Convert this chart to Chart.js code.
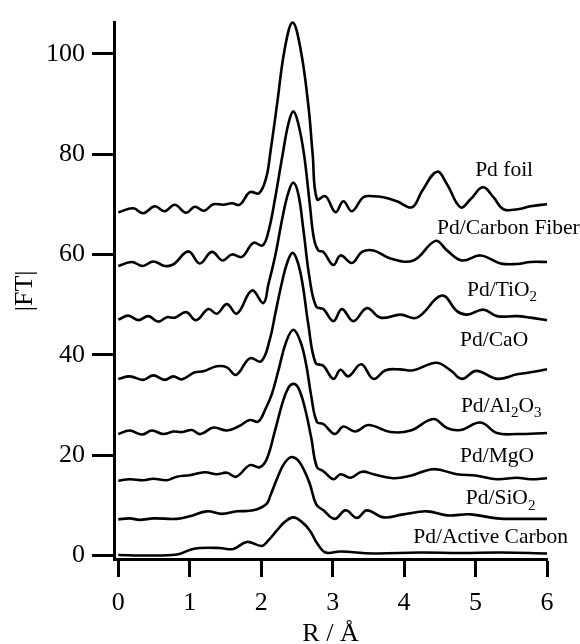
<!DOCTYPE html>
<html>
<head>
<meta charset="utf-8">
<script src="https://cdn.jsdelivr.net/npm/chart.js@4.4.0/dist/chart.umd.min.js"></script>
<style>
  html, body { margin: 0; padding: 0; background: #fff; }
</style>
</head>
<body>
<canvas id="ftChart" width="580" height="644"></canvas>
<script>
// R (Angstrom) and |FT|, one pair of arrays per sample
const foilR = [0.00,0.21,0.35,0.51,0.65,0.79,0.95,1.07,1.20,1.33,1.47,1.59,1.70,1.84,1.97,2.07,2.13,2.22,2.33,2.44,2.55,2.66,2.72,2.78,2.90,3.04,3.15,3.27,3.43,3.57,3.71,3.90,4.11,4.25,4.46,4.60,4.79,4.93,5.10,5.25,5.39,5.59,5.77,6.00];
const foilFT = [68.4,69.2,68.2,69.6,68.6,69.9,68.3,69.5,68.7,70.0,69.9,70.2,69.9,72.4,72.2,75.3,80.5,89.7,101.0,106.2,101.0,89.7,80.0,71.0,71.6,68.4,70.6,68.6,71.4,71.6,71.4,70.6,69.4,72.6,76.5,74.0,69.4,71.0,73.4,71.4,69.0,69.0,69.6,70.0];

const fiberR = [0.00,0.19,0.34,0.49,0.65,0.77,0.98,1.14,1.31,1.46,1.59,1.73,1.89,2.02,2.10,2.18,2.30,2.38,2.45,2.52,2.60,2.68,2.74,2.80,2.87,3.01,3.11,3.27,3.41,3.57,3.81,4.13,4.44,4.60,4.81,5.07,5.35,5.58,5.77,6.00];
const fiberFT = [57.7,58.5,57.7,58.6,57.7,58.0,60.6,58.2,60.5,58.8,60.0,59.5,62.3,61.8,64.5,70.0,79.9,86.0,88.5,86.0,79.9,70.0,63.0,60.8,60.5,57.9,59.8,58.3,60.5,60.8,59.2,58.8,62.7,60.8,58.8,59.8,58.2,58.1,58.5,58.5];

const tio2R = [0.00,0.14,0.28,0.42,0.56,0.68,0.79,0.95,1.09,1.26,1.38,1.52,1.66,1.87,2.03,2.10,2.20,2.30,2.38,2.45,2.52,2.59,2.68,2.77,2.87,3.01,3.13,3.29,3.48,3.67,3.95,4.18,4.53,4.74,4.88,5.11,5.30,5.58,5.77,6.00];
const tio2FT = [47.0,47.8,46.9,47.7,46.6,47.5,47.4,48.5,46.9,49.1,48.2,50.1,48.2,52.8,50.3,54.0,60.0,67.5,72.3,74.3,72.0,65.0,55.0,49.6,49.1,46.7,49.1,46.7,49.3,47.4,48.0,47.4,51.8,48.7,48.0,49.0,47.7,47.7,47.4,46.9];

const caoR = [0.00,0.16,0.35,0.49,0.65,0.77,0.89,1.07,1.19,1.38,1.52,1.65,1.84,2.00,2.12,2.20,2.30,2.37,2.44,2.51,2.58,2.66,2.76,2.87,3.01,3.11,3.22,3.40,3.57,3.74,3.94,4.13,4.45,4.65,4.81,5.01,5.30,5.58,5.77,6.00];
const caoFT = [35.2,35.7,35.0,35.9,35.0,35.7,35.1,36.5,36.7,37.7,37.5,36.0,39.3,38.7,43.0,48.4,55.0,58.6,60.3,58.5,54.0,46.0,38.4,37.8,35.2,37.0,35.7,38.1,35.2,36.9,37.1,36.9,38.4,36.9,35.2,36.8,35.2,36.1,36.5,37.1];

const al2o3R = [0.00,0.16,0.33,0.47,0.63,0.77,0.89,1.03,1.15,1.33,1.52,1.68,1.84,1.96,2.06,2.15,2.25,2.35,2.45,2.55,2.63,2.70,2.78,2.87,3.03,3.15,3.32,3.50,3.81,4.09,4.41,4.60,4.79,5.07,5.30,5.58,6.00];
const al2o3FT = [24.2,24.9,24.1,24.9,24.2,24.7,24.6,25.0,24.2,25.5,24.9,25.7,27.0,26.7,29.2,32.2,37.4,42.6,45.0,42.6,38.0,31.8,26.6,26.2,24.2,25.7,24.7,26.0,24.6,24.9,27.2,25.4,25.0,26.5,24.4,24.2,24.4];

const mgoR = [0.00,0.16,0.35,0.49,0.68,0.82,1.00,1.21,1.38,1.52,1.65,1.84,1.98,2.08,2.19,2.30,2.38,2.45,2.52,2.61,2.70,2.78,2.87,3.01,3.11,3.25,3.41,3.57,3.85,4.09,4.41,4.74,5.02,5.30,5.58,5.77,6.00];
const mgoFT = [14.9,15.2,15.0,15.3,15.0,15.7,16.0,16.6,16.2,16.5,15.7,18.0,17.6,19.3,24.7,30.5,33.4,34.2,33.4,29.5,23.5,17.6,16.8,15.2,16.2,15.5,16.7,16.2,15.4,15.9,17.2,16.2,15.9,15.2,15.5,15.2,15.4];

const sio2R = [0.00,0.16,0.30,0.49,0.82,1.00,1.24,1.45,1.66,1.89,2.07,2.13,2.21,2.30,2.38,2.44,2.52,2.60,2.68,2.77,2.87,3.03,3.18,3.34,3.48,3.71,3.99,4.32,4.60,4.93,5.30,5.67,6.00];
const sio2FT = [7.2,7.4,7.1,7.4,7.3,7.8,8.8,8.3,8.8,9.0,10.2,12.0,14.9,17.8,19.3,19.6,18.9,17.0,14.3,10.2,9.0,7.3,9.0,7.5,9.0,7.6,8.2,8.8,8.0,8.2,7.4,7.3,7.3];

const carbonR = [0.00,0.35,0.82,1.00,1.14,1.42,1.61,1.80,2.01,2.10,2.22,2.33,2.45,2.56,2.68,2.78,2.90,3.11,3.57,4.22,4.79,5.35,6.00];
const carbonFT = [0.1,0.0,0.2,1.1,1.5,1.5,1.3,2.7,1.9,3.0,5.0,6.7,7.6,6.8,5.0,2.5,0.6,0.8,0.4,0.6,0.5,0.6,0.4];

const xTicks = [0, 1, 2, 3, 4, 5, 6];
const yTicks = [0, 20, 40, 60, 80, 100];

// label text pieces: [text, isSubscript]
const sampleNames = [
  [['Pd foil', 0]],
  [['Pd/Carbon Fiber', 0]],
  [['Pd/TiO', 0], ['2', 1]],
  [['Pd/CaO', 0]],
  [['Pd/Al', 0], ['2', 1], ['O', 0], ['3', 1]],
  [['Pd/MgO', 0]],
  [['Pd/SiO', 0], ['2', 1]],
  [['Pd/Active Carbon', 0]]
];
// where each label sits, in axis units (centre x, middle y)
const labelSpots = [[5.40, 76.7], [5.46, 65.1], [5.37, 52.9], [5.26, 42.8], [5.36, 29.8], [5.30, 19.8], [5.35, 11.3], [5.21, 3.6]];

const series = [
  [foilR, foilFT], [fiberR, fiberFT], [tio2R, tio2FT], [caoR, caoFT],
  [al2o3R, al2o3FT], [mgoR, mgoFT], [sio2R, sio2FT], [carbonR, carbonFT]
];

const serif = 'Liberation Serif';

const sampleLabelPlugin = {
  id: 'sampleLabels',
  afterDatasetsDraw(chart) {
    const ctx = chart.ctx;
    const xs = chart.scales.x, ys = chart.scales.y;
    ctx.save();
    ctx.fillStyle = '#000';
    ctx.textBaseline = 'middle';
    ctx.textAlign = 'left';
    sampleNames.forEach((parts, i) => {
      const fonts = parts.map(p => p[1] ? '15px "' + serif + '"' : '21.5px "' + serif + '"');
      let total = 0;
      parts.forEach((p, j) => { ctx.font = fonts[j]; total += ctx.measureText(p[0]).width; });
      let x = xs.getPixelForValue(labelSpots[i][0]) - total / 2;
      const y = ys.getPixelForValue(labelSpots[i][1]);
      parts.forEach((p, j) => {
        ctx.font = fonts[j];
        ctx.fillText(p[0], x, p[1] ? y + 7 : y);
        x += ctx.measureText(p[0]).width;
      });
    });
    ctx.restore();
  }
};

const ctx = document.getElementById('ftChart').getContext('2d');
new Chart(ctx, {
  type: 'line',
  data: {
    datasets: series.map(s => ({
      data: s[0].map((r, i) => ({ x: r, y: s[1][i] })),
      borderColor: '#000',
      borderWidth: 2.6,
      pointRadius: 0,
      tension: 0.4,
      clip: false
    }))
  },
  options: {
    responsive: false,
    animation: false,
    layout: { padding: { top: 16, right: 33, left: 0, bottom: 0 } },
    plugins: { legend: { display: false }, tooltip: { enabled: false } },
    scales: {
      x: {
        type: 'linear',
        min: -0.06,
        max: 6.0,
        afterBuildTicks: s => { s.ticks = xTicks.map(v => ({ value: v })); },
        afterFit: s => { s.height = 85; },
        border: { display: true, color: '#000', width: 3 },
        grid: { drawOnChartArea: false, drawTicks: true, tickLength: 18, tickWidth: 3, tickColor: '#000' },
        ticks: { color: '#000', font: { family: serif, size: 26 }, padding: 11, maxRotation: 0 },
        title: { display: true, text: 'R / Å', color: '#000', font: { family: serif, size: 26, lineHeight: 1 }, padding: { top: 0, bottom: -3 } }
      },
      y: {
        min: -0.7,
        max: 106.2,
        afterBuildTicks: s => { s.ticks = yTicks.map(v => ({ value: v })); },
        afterFit: s => { s.width = 114; },
        border: { display: true, color: '#000', width: 3 },
        grid: { drawOnChartArea: false, drawTicks: true, tickLength: 22, tickWidth: 3, tickColor: '#000' },
        ticks: { color: '#000', font: { family: serif, size: 26 }, padding: 7 },
        title: { display: true, text: '|FT|', color: '#000', font: { family: serif, size: 26, lineHeight: 1 }, padding: { top: 12, bottom: 0 } }
      }
    }
  },
  plugins: [sampleLabelPlugin]
});
</script>
</body>
</html>
